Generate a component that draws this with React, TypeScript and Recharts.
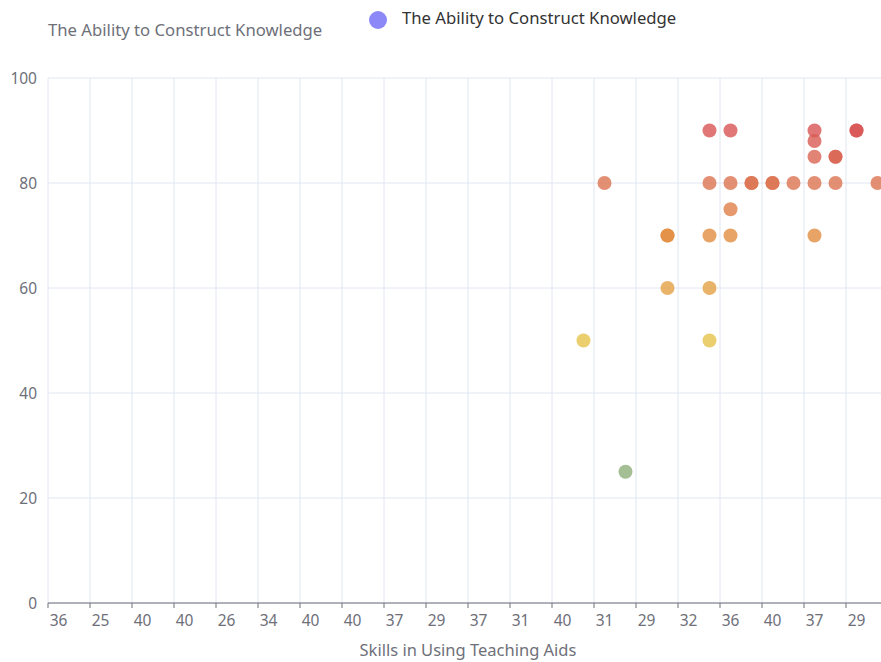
import { ScatterChart, Scatter, XAxis, YAxis, CartesianGrid } from "recharts";

// labels of the even categories (odd ones have no visible label)
const xLabels = ["36", "25", "40", "40", "26", "34", "40", "40", "37", "29", "37", "31", "40", "31", "29", "32", "36", "40", "37", "29"];
const catCount = 40;
const yTicks = [0, 20, 40, 60, 80, 100];

// category index of each point, and its score (repeats = overlapping dots)
const pointCat = [25, 26, 27, 29, 29, 29, 31, 31, 31, 31, 31, 32, 32, 32, 32, 33, 33, 34, 34, 35, 36, 36, 36, 36, 36, 37, 37, 37, 38, 38, 39];
const pointScore = [50, 80, 25, 70, 70, 60, 90, 80, 70, 60, 50, 90, 80, 75, 70, 80, 80, 80, 80, 80, 90, 88, 85, 80, 70, 85, 85, 80, 90, 90, 80];

const FONT = '"Noto Sans", sans-serif';
const GREY = "#6E7079";

// visual map style color stops
const STOPS: [number, number[]][] = [
  [25, [140, 175, 120]],
  [50, [230, 195, 74]],
  [60, [227, 161, 68]],
  [70, [226, 141, 64]],
  [80, [220, 115, 80]],
  [90, [216, 84, 84]],
];

function colorFor(v: number) {
  if (v <= STOPS[0][0]) return `rgb(${STOPS[0][1].join(",")})`;
  for (let i = 1; i < STOPS.length; i++) {
    const [v1, c1] = STOPS[i];
    const [v0, c0] = STOPS[i - 1];
    if (v <= v1) {
      const t = (v - v0) / (v1 - v0);
      const c = c0.map((a, k) => Math.round(a + (c1[k] - a) * t));
      return `rgb(${c.join(",")})`;
    }
  }
  return `rgb(${STOPS[STOPS.length - 1][1].join(",")})`;
}

const points = pointCat.map((c, i) => ({ x: c + 0.5, y: pointScore[i] }));
const boundaryTicks = Array.from({ length: catCount / 2 + 1 }, (_, i) => i * 2);

// label sits in the middle of the first category after each tick
const CatTick = (props: any) => {
  const { x, y, payload, width } = props;
  const label = xLabels[payload.value / 2];
  if (!label) return <g />;
  const half = width / catCount / 2;
  return (
    <text x={x + half} y={y} dy="0.71em" textAnchor="middle" fill={GREY} fontSize={15.5} fontFamily={FONT}>
      {label}
    </text>
  );
};

const Dot = (props: any) => {
  const { cx, cy, payload } = props;
  return <circle cx={cx} cy={cy} r={7} fill={colorFor(payload.y)} fillOpacity={0.8} />;
};

export default function App() {
  return (
    <div style={{ position: "absolute", left: 0, top: 0, width: 881, height: 662, overflow: "hidden", background: "#fff", fontFamily: FONT }}>
      <div style={{ position: "absolute", left: 48, top: 20, lineHeight: "20px", fontSize: 16.7, color: GREY, whiteSpace: "nowrap" }}>
        The Ability to Construct Knowledge
      </div>
      <div style={{ position: "absolute", left: 369, top: 11, width: 18, height: 18, borderRadius: "50%", background: "#8C88F7" }} />
      <div style={{ position: "absolute", left: 402, top: 8, lineHeight: "20px", fontSize: 16.7, color: "#333", whiteSpace: "nowrap" }}>
        The Ability to Construct Knowledge
      </div>
      <ScatterChart width={900} height={662} margin={{ top: 78, right: 12, bottom: 0, left: 0 }} style={{ fontFamily: FONT }}>
        <CartesianGrid stroke="#E0E6F1" />
        <XAxis
          type="number"
          dataKey="x"
          domain={[0, catCount]}
          ticks={boundaryTicks}
          interval={0}
          height={59}
          tick={<CatTick />}
          tickSize={5}
          tickMargin={7}
          stroke={GREY}
          label={{ value: "Skills in Using Teaching Aids", position: "insideBottom", offset: 6, fill: GREY, fontSize: 16.5 }}
          allowDataOverflow
        />
        <YAxis
          type="number"
          dataKey="y"
          domain={[0, 100]}
          ticks={yTicks}
          interval={0}
          width={48}
          axisLine={false}
          tickLine={false}
          tickMargin={5}
          tick={{ fill: GREY, fontSize: 15.5 }}
        />
        <Scatter data={points} shape={<Dot />} isAnimationActive={false} />
      </ScatterChart>
    </div>
  );
}
